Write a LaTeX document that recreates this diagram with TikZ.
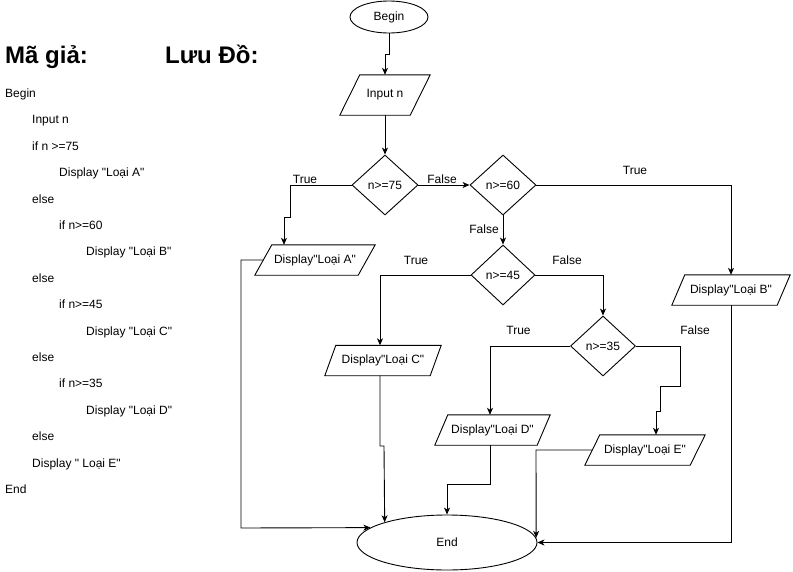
\documentclass[tikz,border=0pt]{standalone}
\usepackage{fontspec}
\setmainfont{Liberation Sans}[Ligatures=TeXOff]
\usetikzlibrary{shapes.geometric,arrows.meta}
\newcommand\drawpara[2]{\draw[conn] ([xshift=#2/2]#1.north west) -- ([xshift=#2/2]#1.north east) -- ([xshift=-#2/2]#1.south east) -- ([xshift=-#2/2]#1.south west) -- cycle;}
\begin{document}
\begin{tikzpicture}[x=1pt,y=-1pt,
  font=\fontsize{12}{14}\selectfont,
  conn/.style={draw=black,line width=0.9pt},
  arr/.style={conn,-{Stealth[length=7pt,width=6pt,inset=2pt]}},
  term/.style={ellipse,draw,line width=0.9pt,inner sep=0pt},
  dec/.style={diamond,draw,line width=0.9pt,inner sep=0pt,minimum width=66pt,minimum height=60pt},
  iobox/.style={rectangle,inner sep=0pt,minimum height=30pt},
  pcode/.style={anchor=base west,inner sep=0pt},
  ttl/.style={anchor=base west,inner sep=0pt,font=\fontsize{24}{28}\selectfont\bfseries},
  lbl/.style={inner sep=0pt}
]
\useasboundingbox (0,0) rectangle (793,571);

% titles
\node[ttl] (t1) at (5,63) {Mã giả:};
\node[ttl] (t2) at (165,63) {Lưu Đồ:};

% pseudocode
\node[pcode] (c0) at (5,97.5) {Begin};
\node[pcode] (c1) at (32,123.9) {Input n};
\node[pcode] (c2) at (32,150.3) {if n >=75};
\node[pcode] (c3) at (59,176.7) {Display "Loại A"};
\node[pcode] (c4) at (32,203.1) {else};
\node[pcode] (c5) at (59,229.5) {if n>=60};
\node[pcode] (c6) at (86,255.9) {Display "Loại B"};
\node[pcode] (c7) at (32,282.3) {else};
\node[pcode] (c8) at (59,308.7) {if n>=45};
\node[pcode] (c9) at (86,335.1) {Display "Loại C"};
\node[pcode] (c10) at (32,361.5) {else};
\node[pcode] (c11) at (59,387.9) {if n>=35};
\node[pcode] (c12) at (86,414.3) {Display "Loại D"};
\node[pcode] (c13) at (32,440.7) {else};
\node[pcode] (c14) at (32,467.1) {Display " Loại E"};
\node[pcode] (c15) at (5,493.5) {End};

% flowchart nodes
\node[term,minimum width=78pt,minimum height=32pt] (begin) at (389,17) {Begin};
\node[iobox,minimum width=70pt,minimum height=40pt] (input) at (385,95) {Input n};
\drawpara{input}{20}
\node[dec] (d75) at (385,185) {n>=75};
\node[dec] (d60) at (503,185) {n>=60};
\node[dec,minimum width=64pt] (d45) at (503,275) {n>=45};
\node[dec,minimum width=65pt] (d35) at (603,346) {n>=35};
\node[iobox,minimum width=103pt] (A) at (315,260) {Display"Loại A"};
\drawpara{A}{17}
\node[iobox,minimum width=105pt] (B) at (731,290) {Display"Loại B"};
\drawpara{B}{13}
\node[iobox,minimum width=105pt] (C) at (383,360.5) {Display"Loại C"};
\drawpara{C}{11}
\node[iobox,minimum width=102pt] (D) at (492.5,430) {Display"Loại D"};
\drawpara{D}{13}
\node[iobox,minimum width=105pt] (E) at (645,450) {Display"Loại E"};
\drawpara{E}{15}
\node[term,minimum width=180pt,minimum height=55pt] (fin) at (447,542.5) {End};

% connectors
\draw[arr] (begin.south) -- (389,54) -- (385,54) -- (input.north);
\draw[arr] (input.south) -- (d75.north);
\draw[arr] (d75.east) -- (d60.west);
\draw[arr] (d75.west) -- (290,185) -- (290,217) -- (284,217) -- (284,0 |- A.north);
\draw[arr] (d60.east) -| (B.north);
\draw[arr] (d60.south) -- (d45.north);
\draw[arr] (d45.west) -| ([xshift=-3]C.north);
\draw[arr] (d45.east) -| (d35.north);
\draw[arr] (d35.west) -| ([xshift=-2.5]D.north);
\draw[arr] (d35.east) -- (680,346) -- (680,386) -- (660,386) -- (660,411) -- (656,411) -- (656,0 |- E.north);

\draw[arr] (A.west) -- (241,260) -- (241,528) -- (fin.169.3);
\draw[arr] ([xshift=-3]C.south) -- (380,446) -- (384,446) -- (fin.162.8);
\draw[arr] ([xshift=-2.5]D.south) -- (490,484) -- (447,484) -- (fin.north);
\draw[arr] (E.west) -- (536,450) -- (fin.3);
\draw[arr] (B.south) |- (fin.east);

% labels
\node[lbl] (l1) at (305,179) {True};
\node[lbl] (l2) at (442,179) {False};
\node[lbl] (l3) at (484,229) {False};
\node[lbl] (l4) at (635,170) {True};
\node[lbl] (l5) at (416,260) {True};
\node[lbl] (l6) at (567,260) {False};
\node[lbl] (l7) at (518.5,330) {True};
\node[lbl] (l8) at (695,330) {False};
\end{tikzpicture}
\end{document}
